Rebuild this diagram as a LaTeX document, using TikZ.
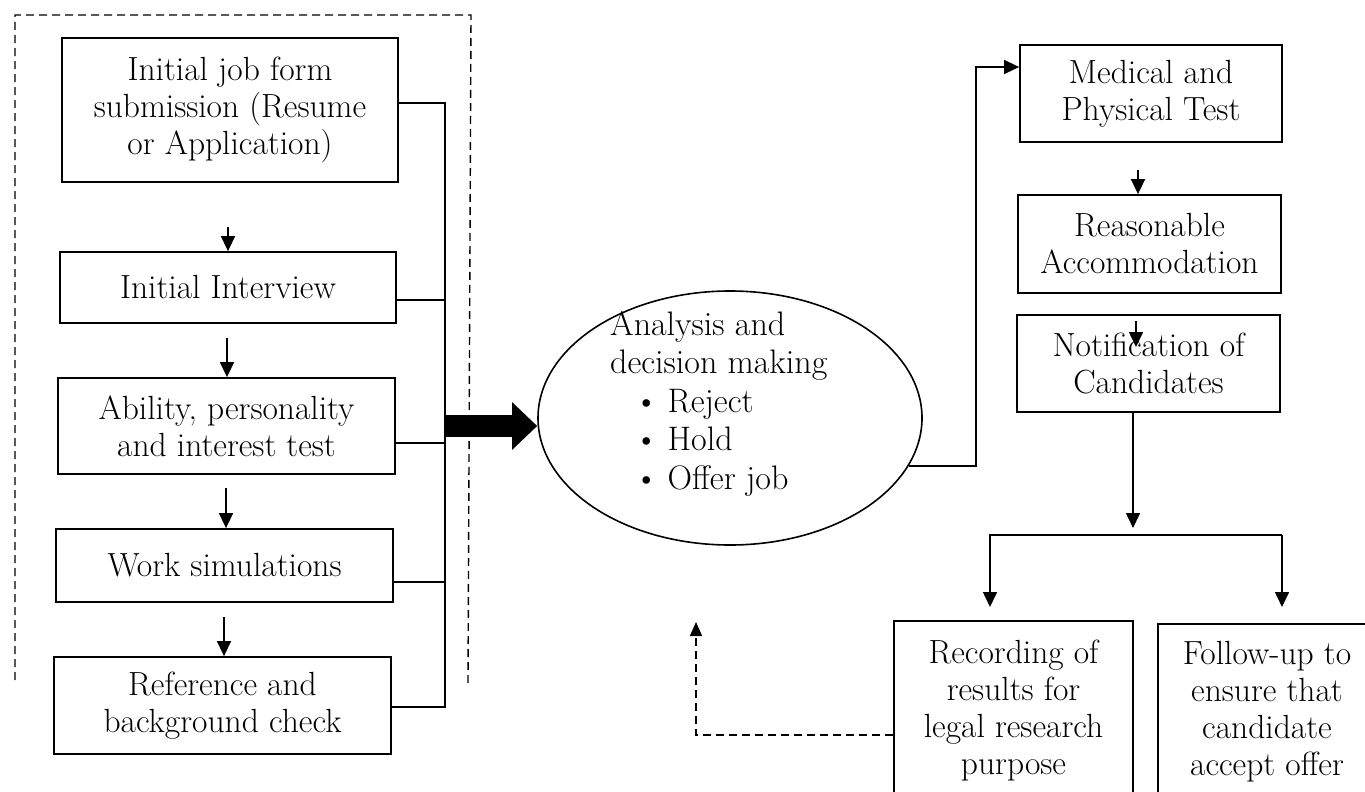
\documentclass[tikz,border=0pt]{standalone}
\usepackage{fontspec}
\usetikzlibrary{arrows.meta,shapes.geometric,calc}
\tikzset{
  box/.style={draw, line width=1.8pt, align=center, inner sep=0pt, font=\fontsize{33.5}{37}\selectfont},
  txt/.style={inner sep=0pt, font=\fontsize{34}{38.5}\selectfont},
  arr/.style={line width=1.6pt, -{Triangle[length=15pt,width=14pt]}},
  ln/.style={line width=1.6pt},
  dsh/.style={line width=1.4pt, dash pattern=on 8pt off 5pt},
}
\begin{document}
\begin{tikzpicture}[x=1pt,y=-1pt]
\useasboundingbox (0,0) rectangle (1365,792);
\clip (0,0) rectangle (1365,792);
\fill[white] (0,0) rectangle (1365,792);

% dashed frame (open at bottom)
\draw[dsh] (15,680) -- (15,15) -- (471,15) -- (468,683);

% left column
\node[box, minimum width=336pt, minimum height=144pt] (b1) at (230,110) {Initial job form\\submission (Resume\\or Application)};
\node[box, minimum width=336pt, minimum height=71pt] (b2) at (228,287.5) {Initial Interview};
\node[box, minimum width=337pt, minimum height=96pt] (b3) at (226.5,426) {Ability, personality\\and interest test};
\node[box, minimum width=337pt, minimum height=73pt] (b4) at (224.5,565.5) {Work simulations};
\node[box, minimum width=337pt, minimum height=97pt] (b5) at (222.5,705.5) {Reference and\\background check};

\coordinate (a1) at (228,227);
\coordinate (a2) at (227,338);
\coordinate (a3) at (226,488);
\coordinate (a4) at (224,617);
\draw[arr] (a1) -- (a1 |- b2.north);
\draw[arr] (a2) -- (a2 |- b3.north);
\draw[arr] (a3) -- (a3 |- b4.north);
\draw[arr] (a4) -- (a4 |- b5.north);

% bus on the right of the left column
\coordinate (bt) at (445,103);
\coordinate (bb) at (445,707);
\draw[ln] (b1.east |- bt) -- (bt) -- (bb) -- (b5.east |- bb);
\draw[ln] (b2.east |- 0,300) -- (bt |- 0,300);
\draw[ln] (b3.east |- 0,443) -- (bt |- 0,443);
\draw[ln] (b4.east |- 0,582) -- (bt |- 0,582);

% ellipse
\node[draw, ellipse, line width=1.6pt, minimum width=384pt, minimum height=254pt, inner sep=0pt] (ell) at (730,418) {};
\node[txt, align=left, anchor=north west] (ellt) at (610,311) {Analysis and\\decision making\\\hspace*{24pt}\textbullet\hspace{9pt}Reject\\\hspace*{24pt}\textbullet\hspace{9pt}Hold\\\hspace*{24pt}\textbullet\hspace{9pt}Offer job};

% thick block arrow
\draw[line width=22pt, -{Triangle[length=25pt,width=46pt]}] (bt |- 0,426) -- (ell.west |- 0,426);

% right column
\node[box, minimum width=262pt, minimum height=97pt] (med) at (1151,93.5) {Medical and\\Physical Test};
\node[box, minimum width=263pt, minimum height=98pt] (rea) at (1149.5,244) {Reasonable\\Accommodation};
\node[box, minimum width=263pt, minimum height=97pt] (not) at (1148.5,363.5) {Notification of\\Candidates};

\coordinate (j) at (976,67);
\draw[arr] (ell.-15.5) -| (j) -- (j -| med.west);

\coordinate (m1) at (1138,170);
\draw[arr] (m1) -- (m1 |- rea.north);
\coordinate (n1) at (1136,321);
\coordinate (n2) at (1136,347);
\draw[arr] (n1) -- (n2);

\coordinate (nd) at (1133,528);
\draw[arr] (nd |- not.south) -- (nd);

\coordinate (sl) at (990,535);
\coordinate (sr) at (1282,535);
\coordinate (tl) at (990,607);
\coordinate (tr) at (1282,607);
\draw[arr] (sr) -- (sl) -- (tl);
\draw[arr] (sr) -- (tr);

% bottom boxes (cut by the page edge)
\node[box, minimum width=239pt, minimum height=179pt] (rec) at (1013.5,710.5) {Recording of\\results for\\legal research\\purpose};
\node[box, minimum width=218pt, minimum height=176pt] (fol) at (1267,712) {Follow-up to\\ensure that\\candidate\\accept offer};

% dashed feedback
\coordinate (fb) at (696,735);
\coordinate (ft) at (696,622);
\draw[dsh, -{Triangle[length=14pt,width=12pt]}] (rec.west |- fb) -- (fb) -- (ft);
\end{tikzpicture}
\end{document}
